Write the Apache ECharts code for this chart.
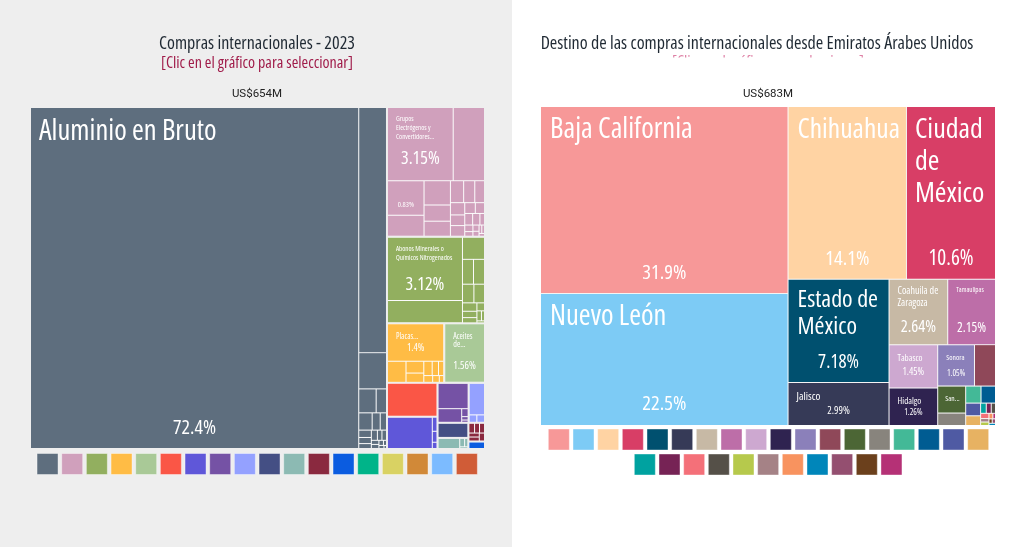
<!DOCTYPE html>
<html><head><meta charset="utf-8">
<style>html,body{margin:0;padding:0;width:1024px;height:547px;overflow:hidden;background:linear-gradient(90deg,#eeeeee 0,#eeeeee 512px,#ffffff 512px)}#c{width:1024px;height:547px}</style>
<script src="https://cdn.jsdelivr.net/npm/echarts@6/dist/echarts.min.js"></script>
</head><body><div id="c"></div>
<script>
// ---- data ----
const leftTitle = "Compras internacionales - 2023";
const leftSubtitle = "[Clic en el gráfico para seleccionar]";
const leftTotal = "US$654M";
const rightTitle = "Destino de las compras internacionales desde Emiratos Árabes Unidos";
const rightTotal = "US$683M";

const leftColors = ["#5E6E7E","#D0A0BC","#92AF5F","#FFBC45","#A9C997","#FA5646","#5F57D9","#7552A5","#94A1FF","#444F84","#8CBAB3","#8A293F","#0B5CE0","#00B489","#D9D263","#D18938","#7CBBFF","#D05C37"];
const rightColorsTop = ["#F79898","#7DCBF5","#FFD3A3","#D83E66","#00506F","#363A57","#C7B9A5","#BD6EA8","#CDA8D0","#2F2350","#8B80BA","#8F4859","#4C6635","#88847D","#43B997","#005C92","#4F5AA3","#E7B262"];
const rightColorsBottom = ["#00A2A0","#762355","#F47079","#555048","#B6C94C","#A58286","#F8935F","#0086BA","#944F70","#6B401C","#B53176"];

const grayValues = [72.4,4.4,0.65,0.27,0.16,0.15,0.09,0.07,0.06,0.05,0.04,0.04,0.03,0.03,0.02,0.02,0.015,0.01,0.01,0.005];
const pinkValues = [3.15,1.5,0.83,0.5,0.42,0.28,0.26,0.19,0.16,0.14,0.115,0.1,0.1,0.075,0.065,0.06,0.055,0.035,0.035,0.025,0.025,0.02,0.015,0.015,0.01];
const greenValues = [3.12,1.1,0.32,0.18,0.18,0.14,0.13,0.08,0.06,0.05,0.04,0.03,0.02,0.01];
const yellowValues = [1.4,0.26,0.14,0.11,0.08,0.06,0.05,0.04,0.03,0.02];
const sageValues = [1.56];
const redValues = [1.1];
const violetValues = [0.95,0.045,0.035,0.02];
const purpleValues = [0.52,0.22,0.035,0.015,0.01];
const periwinkleValues = [0.34,0.04,0.04];
const navyValues = [0.3];
const tealValues = [0.16,0.03,0.02,0.01];
const maroonValues = [0.04,0.035,0.035,0.03,0.03,0.03];
const blueValues = [0.08];
const leftGroups = [grayValues,pinkValues,greenValues,yellowValues,sageValues,redValues,violetValues,purpleValues,periwinkleValues,navyValues,tealValues,maroonValues,blueValues];

const leftNames = {
  "72.4":"Aluminio en Bruto",
  "3.15":"Grupos\nElectrógenos y\nConvertidores...",
  "3.12":"Abonos Minerales o\nQuímicos Nitrogenados",
  "1.4":"Placas...",
  "1.56":"Aceites\nde..."
};
const leftPercents = [72.4,3.15,0.83,3.12,1.4,1.56];

const rightValues = [31.9,22.5,14.1,10.6,7.18,2.99,2.64,2.15,1.45,1.26,1.05,0.6,0.52,0.24,0.18,0.17,0.13,0.1,0.04,0.035,0.03,0.03,0.02,0.02,0.015,0.01,0.01,0.01,0.01];
const rightNames = {
  "31.9":"Baja California","22.5":"Nuevo León","14.1":"Chihuahua","10.6":"Ciudad\nde\nMéxico",
  "7.18":"Estado de\nMéxico","2.99":"Jalisco","2.64":"Coahuila de\nZaragoza","2.15":"Tamaulipas",
  "1.45":"Tabasco","1.26":"Hidalgo","1.05":"Sonora","0.52":"San..."
};
const rightPercents = [31.9,22.5,14.1,10.6,7.18,2.99,2.64,2.15,1.45,1.26,1.05];

// ---- styling ----
const FONT = "'Open Sans',sans-serif";
const STRETCH = "condensed";
// [fontSize, lineHeight, paddingLeft, paddingTop]
const nameStyle = {
  "72.4":[28.5,32,8,8],"3.15":[7,8.7,8,7],"3.12":[7,8.7,8,7],"1.4":[8,10,8,7],"1.56":[8,8.5,8,8],
  "31.9":[28.5,32,9,7],"22.5":[28.5,32,9,7],"14.1":[27.5,32,9,7],"10.6":[28,32,8,7],"7.18":[24,27,9,7],
  "2.99":[11,13,8,7],"2.64":[10,11.5,8,6],"2.15":[7,9,8,6],"1.45":[9,11,8,8],"1.26":[9,11,8,8],"1.05":[7.5,9,8,8],"0.52":[7.5,9,7,8]
};
// [fontSize, distance from cell bottom]
const percentStyle = {
  "72.4":[20,10],"3.15":[18,12],"0.83":[7.5,6],"3.12":[18,6],"1.4":[10,8],"1.56":[10.5,10],
  "31.9":[20.5,9],"22.5":[20.5,10],"14.1":[20.5,9],"10.6":[21,9],"7.18":[19,10],
  "2.99":[10.5,8],"2.64":[16.5,8],"2.15":[13.5,9],"1.45":[10,10],"1.26":[8.5,8],"1.05":[8.5,7]
};
const LINE = "rgba(255,255,255,0.75)";

function nameLeaf(v,color,names){
  const n = names[String(v)], s = nameStyle[String(v)];
  return {name:n||"",value:v,itemStyle:{color:color},
    label:n?{show:true,position:"insideTopLeft",distance:0,padding:[s[3],0,0,s[2]],color:"#fff",fontFamily:FONT,fontWeight:STRETCH,fontSize:s[0],lineHeight:s[1],overflow:"none",formatter:"{b}"}:{show:false}};
}
function pctLeaf(v,pcts){
  const on = pcts.indexOf(v)>=0, s = percentStyle[String(v)];
  return {name:"",value:v,itemStyle:{color:"rgba(0,0,0,0)"},
    label:on?{show:true,position:"insideBottom",distance:s[1],padding:0,color:"#fff",fontFamily:FONT,fontWeight:STRETCH,fontSize:s[0],overflow:"none",formatter:v+"%"}:{show:false}};
}
function tree(box,data,levels,name){
  return Object.assign({type:"treemap",name:name,roam:false,nodeClick:false,silent:true,breadcrumb:{show:false},visibleMin:0,
    squareRatio:0.5*(1+Math.sqrt(5)),animation:false,levels:levels,data:data},box);
}
const leftBox = {left:31,top:108,width:453,height:340};
const rightBox = {left:541,top:107,width:454,height:318};
const leftLevels = [
  {itemStyle:{borderWidth:0,gapWidth:2,borderColor:"#eeeeee"}},
  {itemStyle:{borderWidth:0,gapWidth:1,borderColor:LINE}},
  {itemStyle:{borderWidth:0}}
];
const leftClear = [
  {itemStyle:{borderWidth:0,gapWidth:2,borderColor:"rgba(0,0,0,0)"}},
  {itemStyle:{borderWidth:0,gapWidth:1,borderColor:"rgba(0,0,0,0)",color:"rgba(0,0,0,0)"}},
  {itemStyle:{borderWidth:0}}
];
const rightLevels = [{itemStyle:{borderWidth:0,gapWidth:1,borderColor:"#f4f4f4"}},{itemStyle:{borderWidth:0}}];
const rightClear = [{itemStyle:{borderWidth:0,gapWidth:1,borderColor:"rgba(0,0,0,0)"}},{itemStyle:{borderWidth:0}}];

const leftData = leftGroups.map((g,i)=>({name:"g"+i,itemStyle:{color:leftColors[i]},children:g.map(v=>nameLeaf(v,leftColors[i],leftNames))}));
const leftPct = leftGroups.map((g,i)=>({name:"g"+i,itemStyle:{color:"rgba(0,0,0,0)"},children:g.map(v=>pctLeaf(v,leftPercents))}));
const rightAll = rightColorsTop.concat(rightColorsBottom);
const rightData = rightValues.map((v,i)=>nameLeaf(v,rightAll[i],rightNames));
const rightPct = rightValues.map(v=>pctLeaf(v,rightPercents));

function swatches(colors,gridIndex){
  return {type:"scatter",xAxisIndex:gridIndex,yAxisIndex:gridIndex,symbol:"rect",symbolSize:21,silent:true,animation:false,
    data:colors.map(c=>({value:[c,0],itemStyle:{color:c,opacity:1,borderColor:"rgba(255,255,255,0.4)",borderWidth:1}}))};
}
const grids = [
  {left:35.2,top:454,width:444,height:20},
  {left:546.5,top:429.5,width:444,height:20},
  {left:632.5,top:454.5,width:271.3,height:20}
];
const lists = [leftColors,rightColorsTop,rightColorsBottom];

const ttl = (text,x,top,size,color,family,weight)=>({text:text,left:x,top:top,textAlign:"center",textStyle:{fontFamily:family||FONT,fontSize:size,fontWeight:weight||STRETCH,color:color}});
const chart = echarts.init(document.getElementById("c"),null,{renderer:"canvas"});
chart.setOption({
  backgroundColor:"transparent",animation:false,
  title:[
    ttl(leftTitle,252,30,18,"#1f2933"),
    ttl(leftSubtitle,252,50,16,"#A01C4A"),
    ttl(leftTotal,252,83,11.5,"#222","Roboto","normal"),
    ttl(rightTitle,752,30,18,"#1f2933"),
    ttl(rightTotal,763,83,11.5,"#222","Roboto","normal")
  ],
  grid:grids,
  xAxis:lists.map((l,i)=>({type:"category",gridIndex:i,show:false,data:l})),
  yAxis:lists.map((l,i)=>({type:"value",gridIndex:i,show:false,min:-1,max:1})),
  graphic:[
    {type:"text",z:5,style:{text:leftSubtitle,x:768,y:62,align:"center",verticalAlign:"middle",font:STRETCH+" 16px "+FONT,fill:"#C2185B",opacity:0.55}},
    {type:"rect",z:6,shape:{x:640,y:57.5,width:260,height:20},style:{fill:"#ffffff"}}
  ],
  series:[
    tree(leftBox,leftData,leftLevels,"compras"),
    tree(leftBox,leftPct,leftClear,"compras-pct"),
    tree(rightBox,rightData,rightLevels,"destino"),
    tree(rightBox,rightPct,rightClear,"destino-pct"),
    swatches(leftColors,0),swatches(rightColorsTop,1),swatches(rightColorsBottom,2)
  ]
});
</script></body></html>
